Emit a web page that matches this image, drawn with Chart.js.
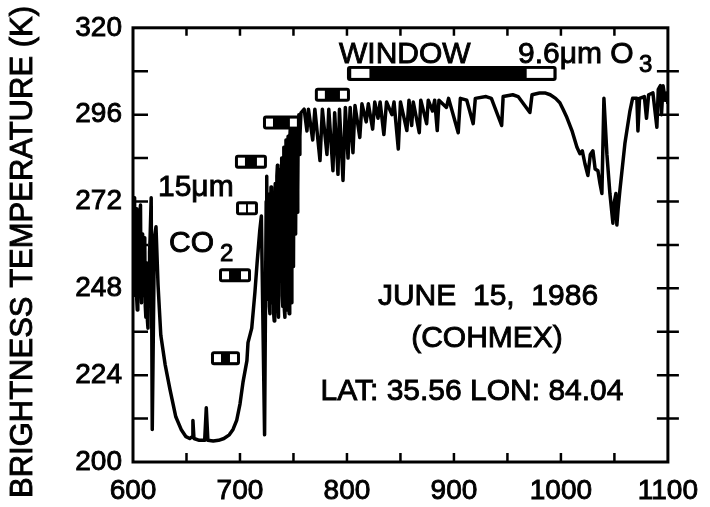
<!DOCTYPE html>
<html>
<head>
<meta charset="utf-8">
<script src="https://cdn.jsdelivr.net/npm/chart.js@4/dist/chart.umd.min.js"></script>
<style>
  html, body { margin: 0; padding: 0; background: #fff; }
  .chart { width: 710px; height: 507px; }
</style>
</head>
<body>
<div class="chart"><canvas id="spectrum"></canvas></div>
<script>
// spectrum (wavenumber cm-1, brightness temperature K)
const wavenumber = [
  600, 600.5, 601, 601.5, 602, 602.5, 603, 603.5, 604, 604.5, 605, 605.5, 606, 606.5, 607, 607.5, 608, 608.5, 609, 609.5,
  610, 610.5, 611, 611.5, 612, 612.5, 613, 613.5, 614, 614.5, 615, 615.5, 616, 617, 618, 620,
  621.5, 623.4, 626, 630, 634.6, 640, 645, 649.5, 653, 655.5, 656, 657, 662, 667, 668.5, 670, 675, 680, 685, 690,
  693.5, 697, 700, 702.8, 706.5, 707.5, 711, 714, 716, 718.5, 720, 723,
  724, 724.5, 725, 725.5, 726, 726.5, 727, 727.5, 728, 728.5, 729, 729.5, 730, 730.5, 731, 731.5, 732, 732.5, 733, 733.5,
  734, 734.5, 735, 735.5, 736, 736.5, 737, 737.5, 738, 738.5, 739, 739.5, 740, 740.5, 741, 741.5, 742, 742.5, 743, 743.5,
  744, 744.5, 745, 745.5, 746, 746.5, 747, 747.5, 748, 748.5, 749, 749.5, 750, 750.5, 751, 751.5, 752, 752.5, 753, 753.5,
  754, 754.5, 755, 755.5, 756,
  757, 760, 762.6, 764, 768, 770, 774.8, 777, 781.3, 783, 786.9, 788.5, 791.6, 793, 796.3,
  798.5, 801, 803, 805.6, 807.5, 812, 814, 818, 820, 824, 826, 829, 831, 834.5, 837, 842, 844, 848, 850, 856,
  858, 860.5, 862, 867.6, 869, 874.5, 876, 880, 882, 884.4, 886, 893, 895, 904, 906, 912, 918, 920, 930, 935,
  944.6, 946, 955, 960, 971, 973, 980, 985, 990, 995, 999, 1002, 1005.6, 1010.3, 1015, 1017.8, 1020, 1022.4, 1025.2, 1027.5,
  1029.9, 1032, 1034.6, 1036.5, 1038.3, 1040.2, 1043, 1045.8, 1048.6, 1050, 1051.4, 1052.3, 1053.5, 1055.1, 1059.8, 1064.5, 1067, 1071, 1072, 1073.5,
  1078, 1080, 1082, 1086, 1089.7, 1091, 1093, 1094, 1095.5, 1097.5, 1099, 1100
];
const brightnessTemp = [
  262, 270, 273, 250, 246, 268, 270, 245, 242, 262, 266, 248, 251, 269, 271, 247, 244, 258, 263, 246,
  249, 262, 260, 243, 240, 255, 251, 239, 237, 252, 248, 258, 262, 273, 209, 262,
  265, 249, 235, 227, 220, 212.5, 209, 207, 206.5, 207, 211.5, 206.5, 206, 206, 215, 206, 205.8, 206, 206.5, 207.5,
  209, 211.6, 216, 222, 228, 233, 237, 247, 255, 264, 268, 207.5,
  250, 272, 279, 248, 245, 270, 274, 243, 241, 268, 276, 246, 244, 265, 270, 241, 239, 272, 277, 249,
  247, 279, 282, 243, 240, 270, 275, 252, 250, 281, 284, 246, 243, 283, 287, 242, 240, 285, 289, 245,
  242, 286, 290, 244, 241, 289, 292, 246, 244, 288, 291, 256, 254, 292, 294, 265, 263, 293, 295, 269,
  275, 295, 296, 285, 290,
  296.5, 297.5, 291.5, 297.5, 289, 297.5, 283.3, 297.5, 285, 297.5, 280.5, 296.5, 279.5, 297.5, 277.8,
  298, 284, 298, 285.5, 298.5, 289.7, 299, 294, 299, 292, 299.5, 295, 299.5, 290.5, 299.5, 296, 299.5, 286.5, 299.5, 291.6,
  300, 293, 299.5, 291, 300, 293.5, 300, 297, 300, 291.6, 300, 298, 300.5, 291, 300.5, 300, 293.5, 300.5, 301, 300.5,
  293, 301, 301.5, 301, 296.6, 301.5, 302, 302, 301.5, 300.5, 299.3, 297.5, 295.2, 291.6, 287, 285.2, 286, 282.5, 279.2, 285,
  286, 281, 280.5, 277, 274.2, 300.5, 285, 274.2, 266, 272, 274.2, 265.5, 270, 275, 288, 297, 300.5, 300.5, 291.5, 300.5,
  301, 295, 301.5, 302, 292.5, 303, 304, 296, 304, 300, 302, 299
];

// channel boxes
const channelStart = [672.9, 680.4, 695.3, 696.3, 721.5, 770];
const channelEnd = [700, 710.3, 725.2, 716.8, 756, 802.8];
const channelTemp = [228.7, 251.6, 283.0, 270.1, 293.8, 301.5];

// window bar and its open ends
const windowBand = [800, 996];
const windowTemp = 307.4;
const windowOpenStart = [804, 968];
const windowOpenEnd = [821, 993];

const xTickLabels = [600, 700, 800, 900, 1000, 1100];
const xTickMarks = [650, 700, 750, 800, 850, 900, 950, 1000, 1050];
const yTickLabels = [200, 224, 248, 272, 296, 320];
const yTickMarks = [212, 224, 236, 248, 260, 272, 284, 296, 308];

const FONT = "'Liberation Sans', Arial, Helvetica, sans-serif";

function heavyText(ctx, text, x, y) {
  ctx.fillText(text, x, y);
  ctx.strokeText(text, x, y);
}

const decorations = {
  id: 'decorations',
  afterDatasetsDraw(chart) {
    const { ctx, chartArea: a, scales: { x, y } } = chart;
    ctx.save();
    ctx.strokeStyle = '#000';
    ctx.fillStyle = '#000';

    // frame
    ctx.lineWidth = 3;
    ctx.strokeRect(a.left, a.top, a.right - a.left, a.bottom - a.top);

    // tick marks
    ctx.lineWidth = 2.5;
    ctx.beginPath();
    xTickMarks.forEach(v => {
      const px = x.getPixelForValue(v);
      ctx.moveTo(px, a.bottom); ctx.lineTo(px, a.bottom - 9);
      ctx.moveTo(px, a.top); ctx.lineTo(px, a.top + 8);
    });
    yTickMarks.forEach(v => {
      const py = y.getPixelForValue(v);
      ctx.moveTo(a.left, py); ctx.lineTo(a.left + 15, py);
      ctx.moveTo(a.right - 11, py); ctx.lineTo(a.right + 11, py);
    });
    ctx.stroke();

    // channel boxes
    channelStart.forEach((s, i) => {
      const x1 = x.getPixelForValue(s), x2 = x.getPixelForValue(channelEnd[i]);
      const yc = y.getPixelForValue(channelTemp[i]);
      ctx.fillStyle = '#000';
      ctx.beginPath();
      ctx.roundRect(x1, yc - 7, x2 - x1, 14, 3);
      ctx.fill();
      ctx.fillStyle = '#fff';
      ctx.fillRect(x1 + 3, yc - 4, 7, 8);
      ctx.fillRect(x2 - 10, yc - 4, 7, 8);
    });

    // window bar
    const w1 = x.getPixelForValue(windowBand[0]), w2 = x.getPixelForValue(windowBand[1]);
    const wy = y.getPixelForValue(windowTemp);
    ctx.fillStyle = '#000';
    ctx.beginPath();
    ctx.roundRect(w1, wy - 7.5, w2 - w1, 15, 3);
    ctx.fill();
    ctx.fillStyle = '#fff';
    windowOpenStart.forEach((s, i) => {
      const o1 = x.getPixelForValue(s), o2 = x.getPixelForValue(windowOpenEnd[i]);
      ctx.fillRect(o1, wy - 4.5, o2 - o1, 9);
    });

    // labels
    ctx.fillStyle = '#000';
    ctx.lineWidth = 0.9;
    ctx.textBaseline = 'alphabetic';
    ctx.textAlign = 'left';
    ctx.font = `30px ${FONT}`;
    heavyText(ctx, '15\u03bcm', 158, 196);
    heavyText(ctx, 'CO', 169, 252);
    heavyText(ctx, 'WINDOW', 339, 63);
    heavyText(ctx, '9.6\u03bcm O', 518, 63);
    ctx.font = `24px ${FONT}`;
    heavyText(ctx, '2', 220, 261);
    heavyText(ctx, '3', 639, 72);

    ctx.textAlign = 'center';
    ctx.font = `30px ${FONT}`;
    heavyText(ctx, 'JUNE  15,  1986', 488, 305);
    heavyText(ctx, '(COHMEX)', 487, 347);
    heavyText(ctx, 'LAT: 35.56 LON: 84.04', 472, 400);

    // y axis title
    ctx.translate(23, 252);
    ctx.rotate(-Math.PI / 2);
    ctx.textBaseline = 'middle';
    ctx.font = `31px ${FONT}`;
    heavyText(ctx, 'BRIGHTNESS TEMPERATURE (K)', 0, 0);
    ctx.restore();
  }
};

new Chart(document.getElementById('spectrum'), {
  type: 'line',
  data: {
    datasets: [{
      data: wavenumber.map((w, i) => ({ x: w, y: brightnessTemp[i] })),
      borderColor: '#000',
      borderWidth: 3.5,
      pointRadius: 0,
      tension: 0,
      borderJoinStyle: 'round'
    }]
  },
  options: {
    responsive: true,
    maintainAspectRatio: false,
    animation: false,
    layout: { padding: { top: 27, right: 42, left: 0, bottom: 0 } },
    plugins: { legend: { display: false }, tooltip: { enabled: false } },
    scales: {
      x: {
        type: 'linear', min: 600, max: 1100,
        grid: { display: false, drawTicks: false },
        border: { display: false },
        afterBuildTicks: s => { s.ticks = xTickLabels.map(v => ({ value: v })); },
        ticks: {
          color: '#000', font: { family: FONT, size: 28 }, padding: 12, maxRotation: 0, autoSkip: false,
          textStrokeColor: '#000', textStrokeWidth: 0.9,
          callback: v => String(v)
        },
        afterFit: s => { s.height = 45; }
      },
      y: {
        min: 200, max: 320,
        grid: { display: false, drawTicks: false },
        border: { display: false },
        afterBuildTicks: s => { s.ticks = yTickLabels.map(v => ({ value: v })); },
        ticks: {
          color: '#000', font: { family: FONT, size: 28 }, padding: 11,
          textStrokeColor: '#000', textStrokeWidth: 0.9,
          callback: v => String(v)
        },
        afterFit: s => { s.width = 133; }
      }
    }
  },
  plugins: [decorations]
});
</script>
</body>
</html>
